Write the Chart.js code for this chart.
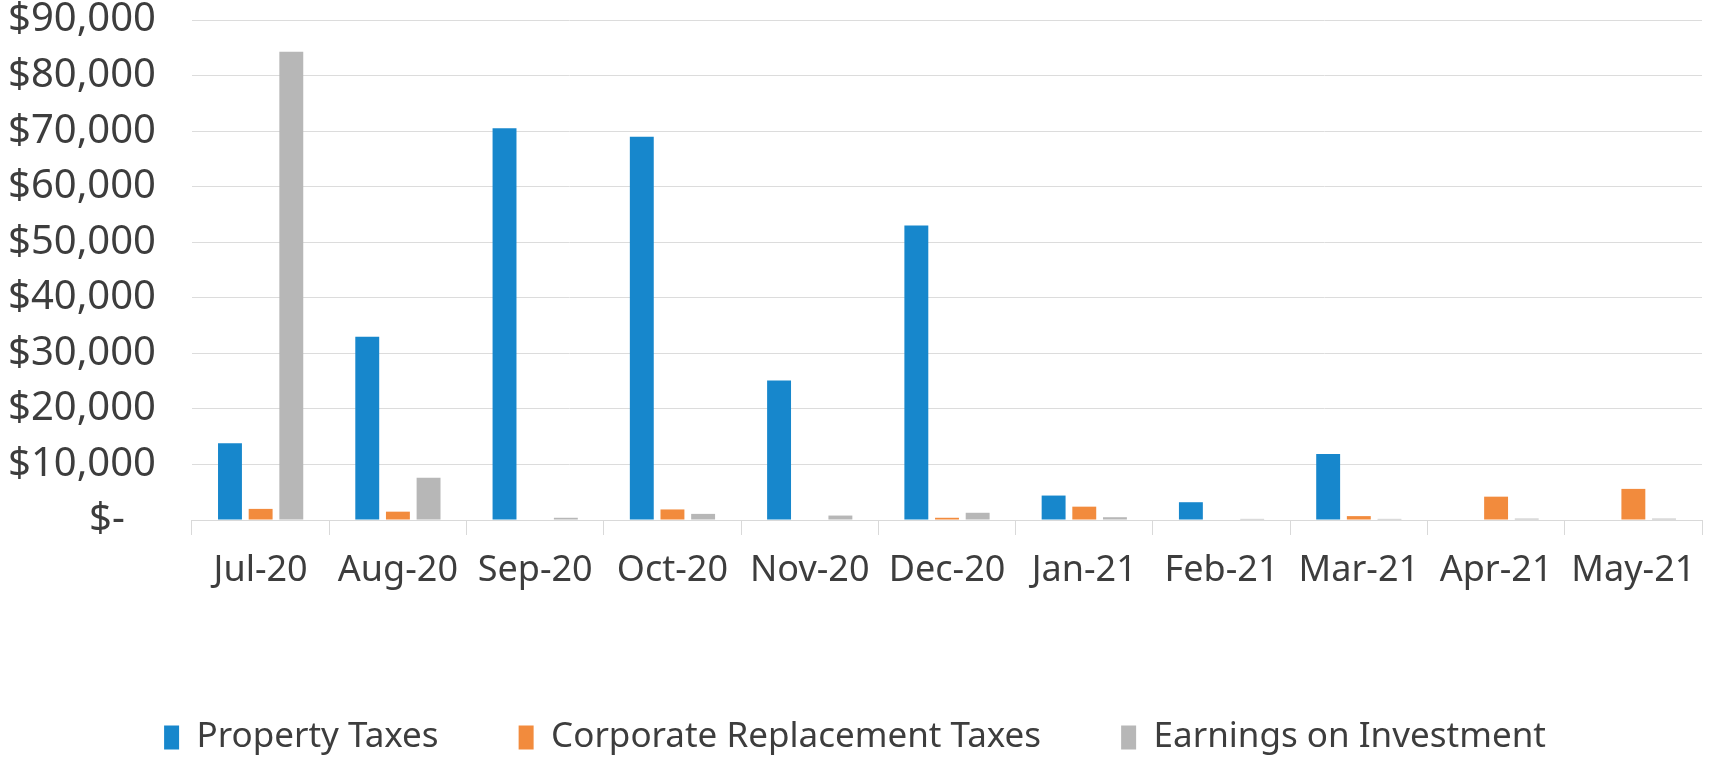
<!DOCTYPE html>
<html>
<head>
<meta charset="utf-8">
<script src="https://cdn.jsdelivr.net/npm/chart.js@4"></script>
<style>
  html, body { margin: 0; padding: 0; background: #ffffff; }
  #wrap { width: 1715px; height: 759px; position: relative; }
</style>
</head>
<body>
<div id="wrap"><canvas id="c" width="1715" height="759"></canvas></div>
<script>
const categories = ['Jul-20','Aug-20','Sep-20','Oct-20','Nov-20','Dec-20','Jan-21','Feb-21','Mar-21','Apr-21','May-21'];
const propertyTaxes = [13800, 33000, 70500, 69000, 25100, 53000, 4400, 3200, 11900, 0, 0];
const corporateReplacementTaxes = [2000, 1500, 0, 1900, 0, 400, 2400, 0, 700, 4200, 5600];
const earningsOnInvestment = [84300, 7600, 400, 1100, 800, 1300, 500, 200, 200, 250, 250];
const yTickValues = [0, 10000, 20000, 30000, 40000, 50000, 60000, 70000, 80000, 90000];
const seriesNames = ['Property Taxes', 'Corporate Replacement Taxes', 'Earnings on Investment'];

const FONT = "'Noto Sans', 'Open Sans', sans-serif";
const TXT = '#3d3d3d';

new Chart(document.getElementById('c'), {
  type: 'bar',
  data: {
    labels: categories,
    datasets: [
      { label: seriesNames[0], data: propertyTaxes, backgroundColor: '#1787cc' },
      { label: seriesNames[1], data: corporateReplacementTaxes, backgroundColor: '#f28b3d' },
      { label: seriesNames[2], data: earningsOnInvestment, backgroundColor: '#b7b7b7' }
    ]
  },
  options: {
    responsive: false,
    animation: false,
    devicePixelRatio: 1,
    categoryPercentage: 0.67,
    barPercentage: 0.78,
    layout: { padding: { left: 8, right: 13, top: 0, bottom: -6 } },
    plugins: {
      tooltip: { enabled: false },
      legend: {
        position: 'bottom',
        labels: {
          font: { family: FONT, size: 35 },
          color: TXT,
          boxWidth: 15,
          boxHeight: 24,
          padding: 80
        }
      }
    },
    scales: {
      x: {
        offset: true,
        border: { display: true, color: '#d9d9d9', width: 1 },
        grid: { display: true, drawOnChartArea: false, drawTicks: true, tickLength: 15, color: '#d9d9d9', offset: true },
        ticks: { font: { family: FONT, size: 36 }, color: TXT, padding: 14, maxRotation: 0 },
        afterFit: (s) => { s.height = 120; }
      },
      y: {
        min: 0,
        max: 90000,
        border: { display: false },
        grid: { color: '#dcdcdc', lineWidth: 1, drawTicks: true, tickLength: 36, tickColor: 'rgba(0,0,0,0)' },
        afterBuildTicks: (s) => { s.ticks = yTickValues.map(v => ({ value: v })); },
        ticks: {
          font: { family: FONT, size: 40, lineHeight: 1.0 },
          color: TXT,
          padding: 0,
          callback: (v) => v === 0 ? '$-   ' : '$' + Number(v).toLocaleString('en-US')
        }
      }
    }
  }
});
</script>
</body>
</html>
